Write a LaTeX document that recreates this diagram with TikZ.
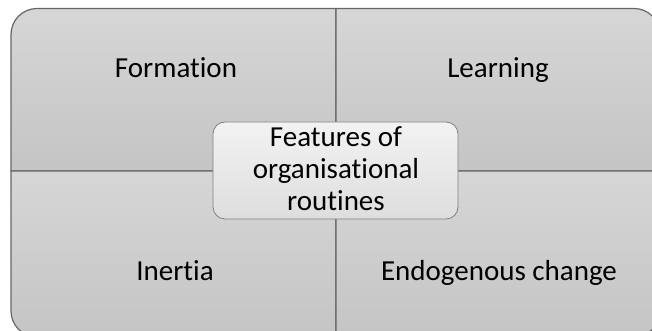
\documentclass[tikz,border=0pt]{standalone}
\usepackage{fontspec}
\setmainfont[Ligatures=NoCommon]{Carlito}
\begin{document}
\begin{tikzpicture}[x=1pt,y=1pt,
  quad/.style={draw=black!60, line width=1.2pt, top color=black!16, bottom color=black!23},
  lbl/.style={font=\fontsize{29}{32}\selectfont, text=black, inner sep=0pt, anchor=base},
  centre/.style={draw=black!50, line width=0.8pt, rounded corners=12pt, top color=black!5, bottom color=black!13,
     minimum width=245pt, minimum height=97pt, inner sep=0pt}]
\useasboundingbox (0,0) rectangle (652,331);
\clip (0,0) rectangle (652,331);
\def\r{26}
% quadrants
\path[quad] (336,160) -- (11,160) -- (11,322.5-\r) arc[start angle=180,end angle=90,radius=\r] -- (336,322.5) -- cycle;
\path[quad] (336,160) -- (336,322.5) -- (660-\r,322.5) arc[start angle=90,end angle=0,radius=\r] -- (660,160) -- cycle;
\path[quad] (336,160) -- (11,160) -- (11,-6+\r) arc[start angle=180,end angle=270,radius=\r] -- (336,-6) -- cycle;
\path[quad] (336,160) -- (336,-6) -- (660-\r,-6) arc[start angle=270,end angle=360,radius=\r] -- (660,160) -- cycle;
% labels
\node[lbl] (formation) at (176,253) {Formation};
\node[lbl] (learning) at (498,253) {Learning};
\node[lbl] (inertia) at (175,50) {Inertia};
\node[lbl] (endo) at (499,50) {Endogenous change};
\node[centre] (features) at (335.5,160.5) {};
\node[lbl, align=center] (ftext) at (336,120)
  {Features of\\organisational\\routines};
\end{tikzpicture}
\end{document}
